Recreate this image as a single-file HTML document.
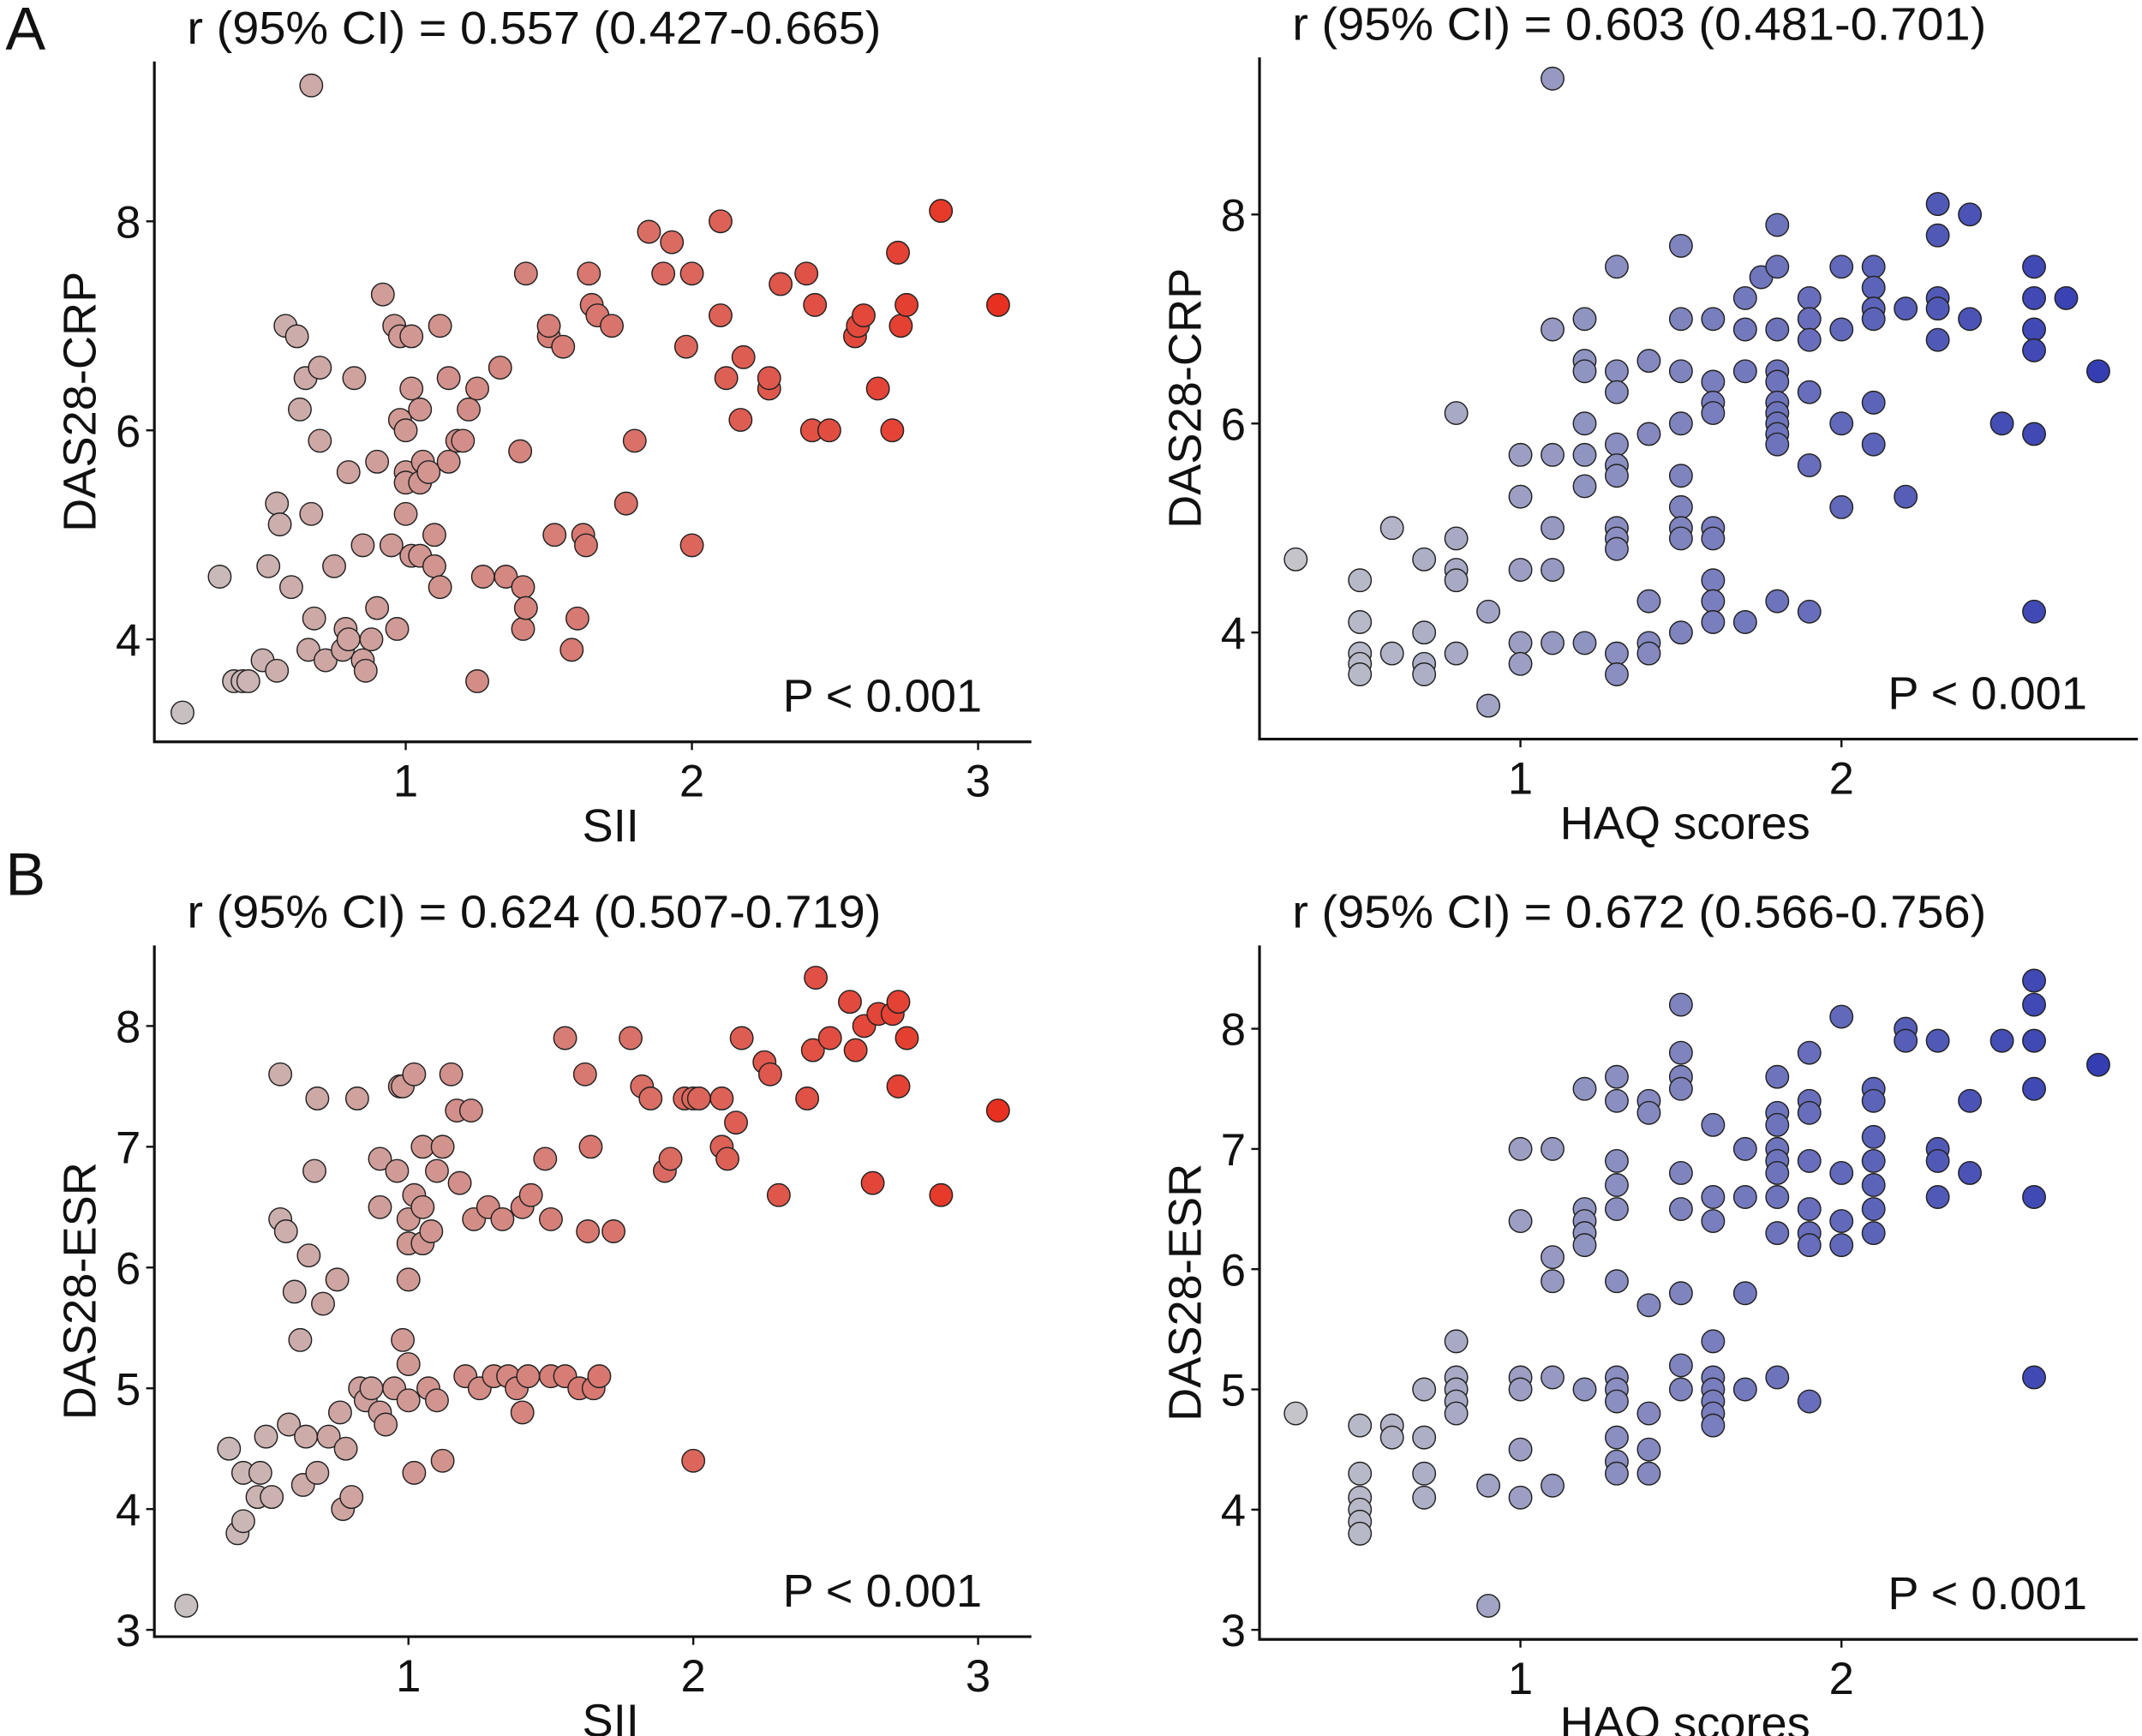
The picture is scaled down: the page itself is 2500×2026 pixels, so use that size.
<!DOCTYPE html>
<html><head><meta charset="utf-8"><style>
html,body{margin:0;padding:0;background:#fff;}
svg{display:block;}
text{font-family:"Liberation Sans",Arial,sans-serif;fill:#111;}
</style></head><body>
<svg id="fig" width="2500" height="2026" viewBox="0 0 1568 1270.7" preserveAspectRatio="none" xmlns="http://www.w3.org/2000/svg">
<text x="4" y="36" font-size="44">A</text>
<text x="4" y="655" font-size="44">B</text>
</svg>
<script>
// ---- data ----
const siiCrpX=[0.22,0.35,0.4,0.43,0.45,0.5,0.52,0.55,0.55,0.56,0.58,0.62,0.6,0.63,0.65,0.66,0.67,0.68,0.67,0.7,0.7,0.72,0.75,0.78,0.79,0.8,0.8,0.82,0.85,0.85,0.86,0.88,0.9,0.9,0.92,0.95,0.96,0.97,0.98,0.98,1.0,1.0,1.0,1.0,1.02,1.02,1.02,1.05,1.05,1.05,1.06,1.08,1.1,1.1,1.12,1.12,1.15,1.15,1.18,1.2,1.22,1.25,1.25,1.27,1.33,1.35,1.4,1.41,1.41,1.42,1.42,1.5,1.5,1.52,1.55,1.58,1.6,1.62,1.63,1.64,1.65,1.67,1.72,1.77,1.8,1.85,1.9,1.93,1.98,2.0,2.0,2.1,2.1,2.12,2.17,2.18,2.27,2.27,2.31,2.4,2.43,2.42,2.48,2.57,2.58,2.6,2.65,2.7,2.72,2.73,2.75,2.87,3.07];
const siiCrpY=[3.3,4.6,3.6,3.6,3.6,3.8,4.7,3.7,5.3,5.1,7.0,6.9,4.5,6.2,6.5,3.9,5.2,4.2,9.3,6.6,5.9,3.8,4.7,3.9,4.1,4.0,5.6,6.5,4.9,3.8,3.7,4.0,4.3,5.7,7.3,4.9,7.0,4.1,6.9,6.1,5.2,6.0,5.6,5.5,6.4,4.8,6.9,6.2,5.5,4.8,5.7,5.6,4.7,5.0,7.0,4.5,6.5,5.7,5.9,5.9,6.2,6.4,3.6,4.6,6.6,4.6,5.8,4.5,4.1,4.3,7.5,6.9,7.0,5.0,6.8,3.9,4.2,5.0,4.9,7.5,7.2,7.1,7.0,5.3,5.9,7.9,7.5,7.8,6.8,7.5,4.9,8.0,7.1,6.5,6.1,6.7,6.4,6.5,7.4,7.5,7.2,6.0,6.0,6.9,7.0,7.1,6.4,6.0,7.7,7.0,7.2,8.1,7.2];
const haqCrpX=[0.3,0.5,0.5,0.5,0.5,0.5,0.6,0.6,0.7,0.7,0.7,0.7,0.8,0.8,0.8,0.8,0.8,0.9,0.9,1.0,1.0,1.0,1.0,1.0,1.1,1.1,1.1,1.1,1.1,1.2,1.2,1.2,1.2,1.2,1.2,1.2,1.3,1.3,1.3,1.3,1.3,1.3,1.3,1.3,1.3,1.3,1.3,1.4,1.4,1.4,1.4,1.4,1.5,1.5,1.5,1.5,1.5,1.5,1.5,1.5,1.5,1.6,1.6,1.6,1.6,1.6,1.6,1.6,1.6,1.6,1.7,1.7,1.7,1.7,1.75,1.8,1.8,1.8,1.8,1.8,1.8,1.8,1.8,1.8,1.8,1.8,1.9,1.9,1.9,1.9,1.9,1.9,2.0,2.0,2.0,2.0,2.1,2.1,2.1,2.1,2.1,2.1,2.2,2.2,2.3,2.3,2.3,2.3,2.3,2.4,2.4,2.5,2.6,2.6,2.6,2.6,2.6,2.6,2.7,2.8,1.1];
const haqCrpY=[4.7,4.5,4.1,3.8,3.7,3.6,5.0,3.8,4.7,4.0,3.7,3.6,4.9,4.6,4.5,3.8,6.1,4.2,3.3,5.7,5.3,4.6,3.9,3.7,6.9,5.7,5.0,4.6,3.9,7.0,6.6,6.5,6.0,5.7,5.4,3.9,7.5,6.5,6.3,5.8,5.6,5.5,5.0,4.9,4.8,3.8,3.6,6.6,5.9,4.3,3.9,3.8,7.7,7.0,6.5,6.0,5.5,5.2,5.0,4.9,4.0,7.0,6.4,6.2,6.1,5.0,4.9,4.5,4.3,4.1,7.2,6.9,6.5,4.1,7.4,7.9,7.5,6.9,6.5,6.4,6.2,6.1,6.0,5.9,5.8,4.3,7.2,7.0,6.8,6.3,5.6,4.2,7.5,6.9,6.0,5.2,7.5,7.3,7.1,7.0,6.2,5.8,7.1,5.3,8.1,7.8,7.2,7.1,6.8,8.0,7.0,6.0,7.5,7.2,6.9,6.7,5.9,4.2,7.2,6.5,9.3];
const siiEsrX=[0.22,0.37,0.4,0.42,0.42,0.47,0.48,0.5,0.52,0.55,0.55,0.57,0.58,0.6,0.62,0.63,0.64,0.65,0.67,0.68,0.68,0.7,0.72,0.75,0.76,0.77,0.78,0.8,0.82,0.83,0.85,0.87,0.9,0.9,0.9,0.92,0.95,0.96,0.97,0.98,0.98,1.0,1.0,1.0,1.0,1.0,1.02,1.02,1.02,1.05,1.05,1.05,1.07,1.08,1.1,1.1,1.12,1.12,1.15,1.17,1.18,1.2,1.22,1.23,1.25,1.28,1.3,1.33,1.35,1.38,1.4,1.4,1.42,1.43,1.48,1.5,1.5,1.55,1.55,1.6,1.62,1.63,1.64,1.65,1.67,1.72,1.78,1.82,1.85,1.9,1.92,1.97,2.0,2.0,2.02,2.1,2.1,2.12,2.15,2.17,2.25,2.27,2.3,2.4,2.42,2.43,2.48,2.55,2.57,2.6,2.63,2.65,2.7,2.72,2.72,2.75,2.87,3.07];
const siiEsrY=[3.2,4.5,3.8,3.9,4.3,4.1,4.3,4.6,4.1,6.4,7.6,6.3,4.7,5.8,5.4,4.2,4.6,6.1,6.8,7.4,4.3,5.7,4.6,5.9,4.8,4.0,4.5,4.1,7.4,5.0,4.9,5.0,4.8,6.5,6.9,4.7,5.0,6.8,7.5,5.4,7.5,6.2,6.4,5.9,5.2,4.9,6.6,7.6,4.3,7.0,6.5,6.2,5.0,6.3,6.8,4.9,7.0,4.4,7.6,7.3,6.7,5.1,7.3,6.4,5.0,6.5,5.1,6.4,5.1,5.0,6.5,4.8,5.1,6.6,6.9,6.4,5.1,7.9,5.1,5.0,7.6,6.3,7.0,5.0,5.1,6.3,7.9,7.5,7.4,6.8,6.9,7.4,7.4,4.4,7.4,7.4,7.0,6.9,7.2,7.9,7.7,7.6,6.6,7.4,7.8,8.4,7.9,8.2,7.8,8.0,6.7,8.1,8.1,8.2,7.5,7.9,6.6,7.3];
const haqEsrX=[0.3,0.5,0.5,0.5,0.5,0.5,0.5,0.6,0.6,0.7,0.7,0.7,0.7,0.8,0.8,0.8,0.8,0.8,0.9,0.9,1.0,1.0,1.0,1.0,1.0,1.0,1.1,1.1,1.1,1.1,1.1,1.2,1.2,1.2,1.2,1.2,1.2,1.3,1.3,1.3,1.3,1.3,1.3,1.3,1.3,1.3,1.3,1.3,1.3,1.4,1.4,1.4,1.4,1.4,1.4,1.5,1.5,1.5,1.5,1.5,1.5,1.5,1.5,1.5,1.6,1.6,1.6,1.6,1.6,1.6,1.6,1.6,1.6,1.7,1.7,1.7,1.7,1.8,1.8,1.8,1.8,1.8,1.8,1.8,1.8,1.8,1.9,1.9,1.9,1.9,1.9,1.9,1.9,1.9,2.0,2.0,2.0,2.0,2.1,2.1,2.1,2.1,2.1,2.1,2.1,2.2,2.2,2.3,2.3,2.3,2.3,2.4,2.4,2.5,2.6,2.6,2.6,2.6,2.6,2.6,2.8];
const haqEsrY=[4.8,4.7,4.3,4.1,4.0,3.9,3.8,4.7,4.6,5.0,4.6,4.3,4.1,5.4,5.1,5.0,4.9,4.8,4.2,3.2,7.0,6.4,5.1,5.0,4.5,4.1,7.0,6.1,5.9,5.1,4.2,7.5,6.5,6.4,6.3,6.2,5.0,7.6,7.4,6.9,6.7,6.5,5.9,5.1,5.0,4.9,4.6,4.4,4.3,7.4,7.3,5.7,4.8,4.5,4.3,8.2,7.8,7.6,7.5,6.8,6.5,5.8,5.2,5.0,7.2,6.6,6.4,5.4,5.1,5.0,4.9,4.8,4.7,7.0,6.6,5.8,5.0,7.6,7.3,7.2,7.0,6.9,6.8,6.6,6.3,5.1,7.8,7.4,7.3,6.9,6.5,6.3,6.2,4.9,8.1,6.8,6.4,6.2,7.5,7.4,7.1,6.9,6.7,6.5,6.3,8.0,7.9,7.9,7.0,6.9,6.6,7.4,6.8,7.9,8.4,8.2,7.9,7.5,6.6,5.1,7.7];
const siiTicks=[1,2,3];
const haqTicks=[1,2];
const crpTicks=[4,6,8];
const esrTicks=[3,4,5,6,7,8];
const titles=["r (95% CI) = 0.557 (0.427-0.665)","r (95% CI) = 0.603 (0.481-0.701)","r (95% CI) = 0.624 (0.507-0.719)","r (95% CI) = 0.672 (0.566-0.756)"];

const NS="http://www.w3.org/2000/svg";
const svg=document.getElementById('fig');
function mk(tag,attrs,parent){const e=document.createElementNS(NS,tag);for(const k in attrs)e.setAttribute(k,attrs[k]);(parent||svg).appendChild(e);return e;}
function lerp(a,b,t){return Math.round(a+(b-a)*t);}
function colorFn(lo,hi,c0,c1){return v=>{const t=Math.max(0,Math.min(1,(v-lo)/(hi-lo)));return `rgb(${lerp(c0[0],c1[0],t)},${lerp(c0[1],c1[1],t)},${lerp(c0[2],c1[2],t)})`;};}

function panel(o){
  const g=mk('g',{});
  
  
  const sx=v=>o.x1px+(v-o.x1)*(o.x2px-o.x1px)/(o.x2-o.x1);
  const sy=v=>o.y1px+(v-o.y1)*(o.y2px-o.y1px)/(o.y2-o.y1);
  const col=colorFn(o.cmin,o.cmax,o.c0,o.c1);
  for(let i=0;i<o.xs.length;i++){
    const c=mk('circle',{cx:sx(o.xs[i]),cy:sy(o.ys[i]),r:8.3,fill:col(o.xs[i]),stroke:'#222','stroke-width':0.9},g);
    
    
  }
  const ax=mk('path',{d:`M${o.L} ${o.T}V${o.B}H${o.R}`,fill:'none',stroke:'#111','stroke-width':2},g);
  
  
  o.xt.forEach(v=>{
    mk('line',{x1:sx(v),x2:sx(v),y1:o.B,y2:o.B+6,stroke:'#111','stroke-width':1.5},g);
    const t=mk('text',{x:sx(v),y:o.B+40,'font-size':33,'text-anchor':'middle'},g);t.textContent=v;
    
    
  });
  o.yt.forEach(v=>{
    mk('line',{x1:o.L-6,x2:o.L,y1:sy(v),y2:sy(v),stroke:'#111','stroke-width':1.5},g);
    const t=mk('text',{x:o.L-10,y:sy(v)+12,'font-size':33,'text-anchor':'end'},g);t.textContent=v;
    
    
  });
  const xl=mk('text',{x:(o.L+o.R)/2+o.xlOff,y:o.B+73,'font-size':34,'text-anchor':'middle'},g);xl.textContent=o.xlab;
  
  
  const yc=(o.T+o.B)/2;
  const yl=mk('text',{x:o.L-43,y:yc,'font-size':34,'text-anchor':'middle',transform:`rotate(-90 ${o.L-43} ${yc})`},g);yl.textContent=o.ylab;
  
  
  const tt=mk('text',{x:o.L+24,y:o.T-13,'font-size':34,textLength:508,lengthAdjust:'spacingAndGlyphs'},g);tt.textContent=o.title;
  
  
  const p=mk('text',{x:o.L+460,y:o.B-22,'font-size':34},g);p.textContent='P < 0.001';
  
  
}
const red=[[200,192,192],[232,48,32]], blue=[[196,196,202],[52,62,178]];
panel({name:'panel-a-sii-crp',xs:siiCrpX,ys:siiCrpY,x1:1,x2:3,x1px:297,x2px:716,y1:4,y2:8,y1px:468,y2px:162,L:113,R:755,T:45,B:543,xt:siiTicks,yt:crpTicks,xlab:'SII',ylab:'DAS28-CRP',title:titles[0],cmin:0.22,cmax:3.07,c0:red[0],c1:red[1],xlOff:13});
panel({name:'panel-a-haq-crp',xs:haqCrpX,ys:haqCrpY,x1:1,x2:2,x1px:1113,x2px:1348,y1:4,y2:8,y1px:463,y2px:157,L:922,R:1565,T:42,B:541,xt:haqTicks,yt:crpTicks,xlab:'HAQ scores',ylab:'DAS28-CRP',title:titles[1],cmin:0.3,cmax:2.8,c0:blue[0],c1:blue[1],xlOff:-10});
panel({name:'panel-b-sii-esr',xs:siiEsrX,ys:siiEsrY,x1:1,x2:3,x1px:299,x2px:716,y1:3,y2:8,y1px:1193,y2px:751,L:113,R:755,T:692,B:1198,xt:siiTicks,yt:esrTicks,xlab:'SII',ylab:'DAS28-ESR',title:titles[2],cmin:0.22,cmax:3.07,c0:red[0],c1:red[1],xlOff:13});
panel({name:'panel-b-haq-esr',xs:haqEsrX,ys:haqEsrY,x1:1,x2:2,x1px:1113,x2px:1348,y1:3,y2:8,y1px:1193,y2px:753,L:922,R:1565,T:692,B:1200,xt:haqTicks,yt:esrTicks,xlab:'HAQ scores',ylab:'DAS28-ESR',title:titles[3],cmin:0.3,cmax:2.8,c0:blue[0],c1:blue[1],xlOff:-10});
</script>
</body></html>
